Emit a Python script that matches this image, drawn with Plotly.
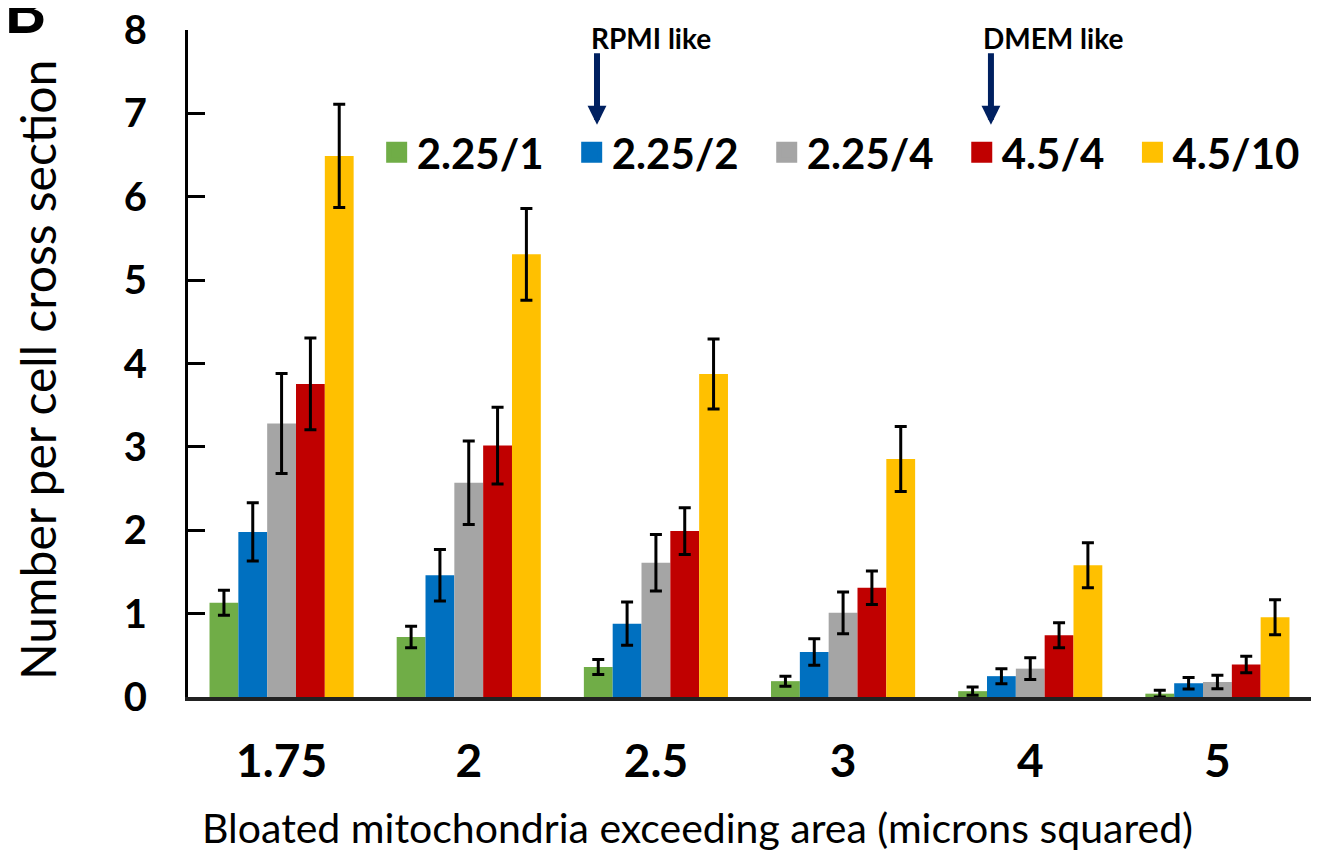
import plotly.graph_objects as go

categories = ["1.75", "2", "2.5", "3", "4", "5"]
series_names = ["2.25/1", "2.25/2", "2.25/4", "4.5/4", "4.5/10"]
colors = ["#70AD47", "#0070C0", "#A5A5A5", "#C00000", "#FFC000"]

v_225_1 = [1.13, 0.72, 0.36, 0.19, 0.07, 0.04]
v_225_2 = [1.98, 1.46, 0.88, 0.54, 0.25, 0.165]
v_225_4 = [3.28, 2.57, 1.61, 1.01, 0.34, 0.18]
v_45_4 = [3.755, 3.015, 1.99, 1.31, 0.74, 0.39]
v_45_10 = [6.49, 5.31, 3.875, 2.855, 1.58, 0.956]

e_225_1 = [0.15, 0.13, 0.09, 0.06, 0.05, 0.04]
e_225_2 = [0.35, 0.31, 0.26, 0.16, 0.09, 0.07]
e_225_4 = [0.60, 0.50, 0.34, 0.25, 0.13, 0.08]
e_45_4 = [0.55, 0.46, 0.28, 0.20, 0.15, 0.10]
e_45_10 = [0.62, 0.55, 0.42, 0.39, 0.27, 0.21]

values = [v_225_1, v_225_2, v_225_4, v_45_4, v_45_10]
errors = [e_225_1, e_225_2, e_225_4, e_45_4, e_45_10]

FONT = "Lato"
PAD = "\u00a0\u00a0\u200a"

fig = go.Figure()
for name, col, v, e in zip(series_names, colors, values, errors):
    fig.add_trace(go.Bar(
        x=categories, y=v, name=name, marker=dict(color=col, line=dict(width=0)),
        error_y=dict(type="data", array=e, visible=True, color="black", thickness=3, width=6),
        showlegend=False,
    ))
# legend keys
for i, (name, col) in enumerate(zip(series_names, colors)):
    label = name + (PAD if i < len(series_names) - 1 else "")
    fig.add_trace(go.Scatter(
        x=[None], y=[None], mode="markers", name=label,
        marker=dict(symbol="square", size=16, color=col, line=dict(color=col, width=5)),
        showlegend=True,
    ))

fig.update_layout(
    width=1332, height=844,
    margin=dict(l=180, r=29, t=22, b=155, autoexpand=False),
    paper_bgcolor="white", plot_bgcolor="white",
    barmode="group", bargap=0.23, bargroupgap=0,
    font=dict(family=FONT, color="black"),
    legend=dict(
        orientation="h", x=0.168, xanchor="left", y=0.8165, yanchor="middle",
        font=dict(family=FONT, size=42, weight="bold", color="black"),
        bgcolor="rgba(0,0,0,0)", borderwidth=0,
    ),
    xaxis=dict(
        type="category", range=[-0.5, 5.5], showline=True, linecolor="#222",
        linewidth=4, ticks="", showgrid=False, zeroline=False, automargin=False,
        tickfont=dict(family=FONT, size=46, weight="bold", color="black"),
        ticklabelstandoff=21,
    ),
    yaxis=dict(
        range=[0, 8], dtick=1, showline=True, linecolor="black", linewidth=3,
        ticks="inside", ticklen=17, tickwidth=3, tickcolor="black",
        showgrid=False, zeroline=False, automargin=False,
        ticklabeloverflow="allow",
        tickfont=dict(family=FONT, size=40, weight="bold", color="black"),
        ticklabelstandoff=30,
    ),
)

fig.add_annotation(xref="paper", yref="paper", x=0.4533, y=-0.1964,
                   text="Bloated mitochondria exceeding area (microns squared)",
                   showarrow=False, xanchor="center", yanchor="middle",
                   font=dict(family=FONT, size=41, color="black"))
fig.add_annotation(xref="paper", yref="paper", x=-0.1336, y=0.4903,
                   text="Number per cell cross section", textangle=-90,
                   showarrow=False, xanchor="center", yanchor="middle",
                   font=dict(family=FONT, size=48, color="black"))

# arrows
for xp in [0.3642, 0.715]:
    fig.add_annotation(
        xref="paper", yref="paper", x=xp, y=0.858, text="", showarrow=True,
        axref="pixel", ayref="pixel", ax=0, ay=-72, borderpad=0,
        font=dict(size=1),
        arrowhead=2, arrowsize=0.63, arrowwidth=6, arrowcolor="#002060",
    )
fig.add_annotation(xref="paper", yref="paper", x=0.4123, y=0.988, text="RPMI like",
                   showarrow=False, xanchor="center", yanchor="middle",
                   font=dict(family=FONT, size=28, weight="bold", color="black"))
fig.add_annotation(xref="paper", yref="paper", x=0.770, y=0.988, text="DMEM like",
                   showarrow=False, xanchor="center", yanchor="middle",
                   font=dict(family=FONT, size=28, weight="bold", color="black"))
fig.add_annotation(xref="paper", yref="paper", x=-0.145, y=1.032, text="B",
                   showarrow=False, xanchor="center", yanchor="middle",
                   font=dict(family=FONT, size=64, weight="bold", color="black"))

fig.write_html("out.html")
